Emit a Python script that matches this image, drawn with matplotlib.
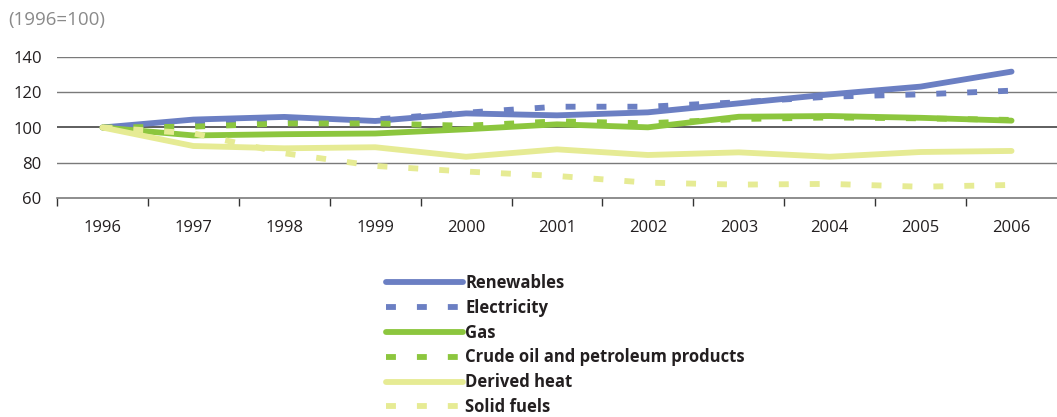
import matplotlib
matplotlib.use("Agg")
import matplotlib.pyplot as plt
from matplotlib.ticker import FixedLocator

plt.rcParams["font.family"] = ["Open Sans", "DejaVu Sans"]

# =========================
# DATA  (index, 1996 = 100)
# =========================

years = ["1996", "1997", "1998", "1999", "2000", "2001",
         "2002", "2003", "2004", "2005", "2006"]

renewables = [100, 104.5, 106, 103.7, 108, 106.9, 108.6, 113.7, 118.8, 123.2, 131.7]
electricity = [100, 102, 103, 104.5, 108.4, 111.8, 111.8, 114.3, 117.5, 118.8, 120.9]
gas = [100, 95.5, 96.2, 96.6, 99, 101.8, 100.1, 106.1, 106.5, 105.5, 103.9]
crude_oil = [100, 100.5, 102.3, 102.3, 101, 103.5, 102.4, 104.8, 105.7, 105.2, 104.3]
derived_heat = [100, 89.5, 88.2, 88.8, 83.4, 87.6, 84.4, 85.9, 83.4, 86.1, 86.7]
solid_fuels = [100, 96.7, 85.4, 78.2, 75, 72.5, 68.7, 67.6, 68, 66.4, 67.4]

series = [
    ("Renewables", renewables, "#6b7fc3", "solid"),
    ("Electricity", electricity, "#6b7fc3", "dashed"),
    ("Gas", gas, "#8cc63e", "solid"),
    ("Crude oil and petroleum products", crude_oil, "#8cc63e", "dashed"),
    ("Derived heat", derived_heat, "#e6eb94", "solid"),
    ("Solid fuels", solid_fuels, "#e6eb94", "dashed"),
]

# =========================
# PLOT
# =========================

fig = plt.figure(figsize=(10.57, 4.17), dpi=100)
ax = fig.add_axes([57 / 1057, 1 - 198 / 417, 1000 / 1057, 141 / 417])

x = list(range(len(years)))
lw = 4.2

for name, vals, color, style in series:
    if style == "solid":
        ax.plot(x, vals, color=color, lw=lw, solid_capstyle="round",
                solid_joinstyle="round", label=name, zorder=3)
    else:
        ax.plot(x, vals, color=color, lw=lw, dashes=(1.7, 3.6),
                dash_capstyle="butt", label=name, zorder=3)

ax.set_xlim(-0.5, len(years) - 0.5)
ax.set_ylim(60, 140)
ax.set_yticks([60, 80, 100, 120, 140])

for v in [80, 120, 140]:
    ax.axhline(v, color="#7a7a7a", lw=1.0, zorder=1)
ax.axhline(100, color="#333333", lw=1.1, zorder=1)

for side in ["left", "right", "top"]:
    ax.spines[side].set_visible(False)
ax.spines["bottom"].set_color("#7a7a7a")
ax.spines["bottom"].set_linewidth(1.2)

ax.set_xticks(x)
ax.set_xticklabels(years)
ax.xaxis.set_minor_locator(FixedLocator([i - 0.5 for i in x]))
ax.tick_params(axis="x", which="major", length=0, pad=16, labelsize=12,
               labelcolor="#231f20")
ax.tick_params(axis="x", which="minor", length=6, width=1.0, color="#333333")
ax.tick_params(axis="y", length=0, pad=11, labelsize=12, labelcolor="#231f20")

fig.text(8 / 1057, 1 - 20 / 417, "(1996=100)", fontsize=13.5, color="#8a8a8a",
         va="center", ha="left")

leg = fig.legend(loc="upper left", bbox_to_anchor=(386 / 1057, 1 - 274 / 417),
                 frameon=False, handlelength=4.6, handletextpad=0.15,
                 labelspacing=0.41, borderpad=0, borderaxespad=0,
                 prop={"weight": "bold", "size": 12})
for t in leg.get_texts():
    t.set_color("#231f20")

fig.savefig("out.png", dpi=100)
